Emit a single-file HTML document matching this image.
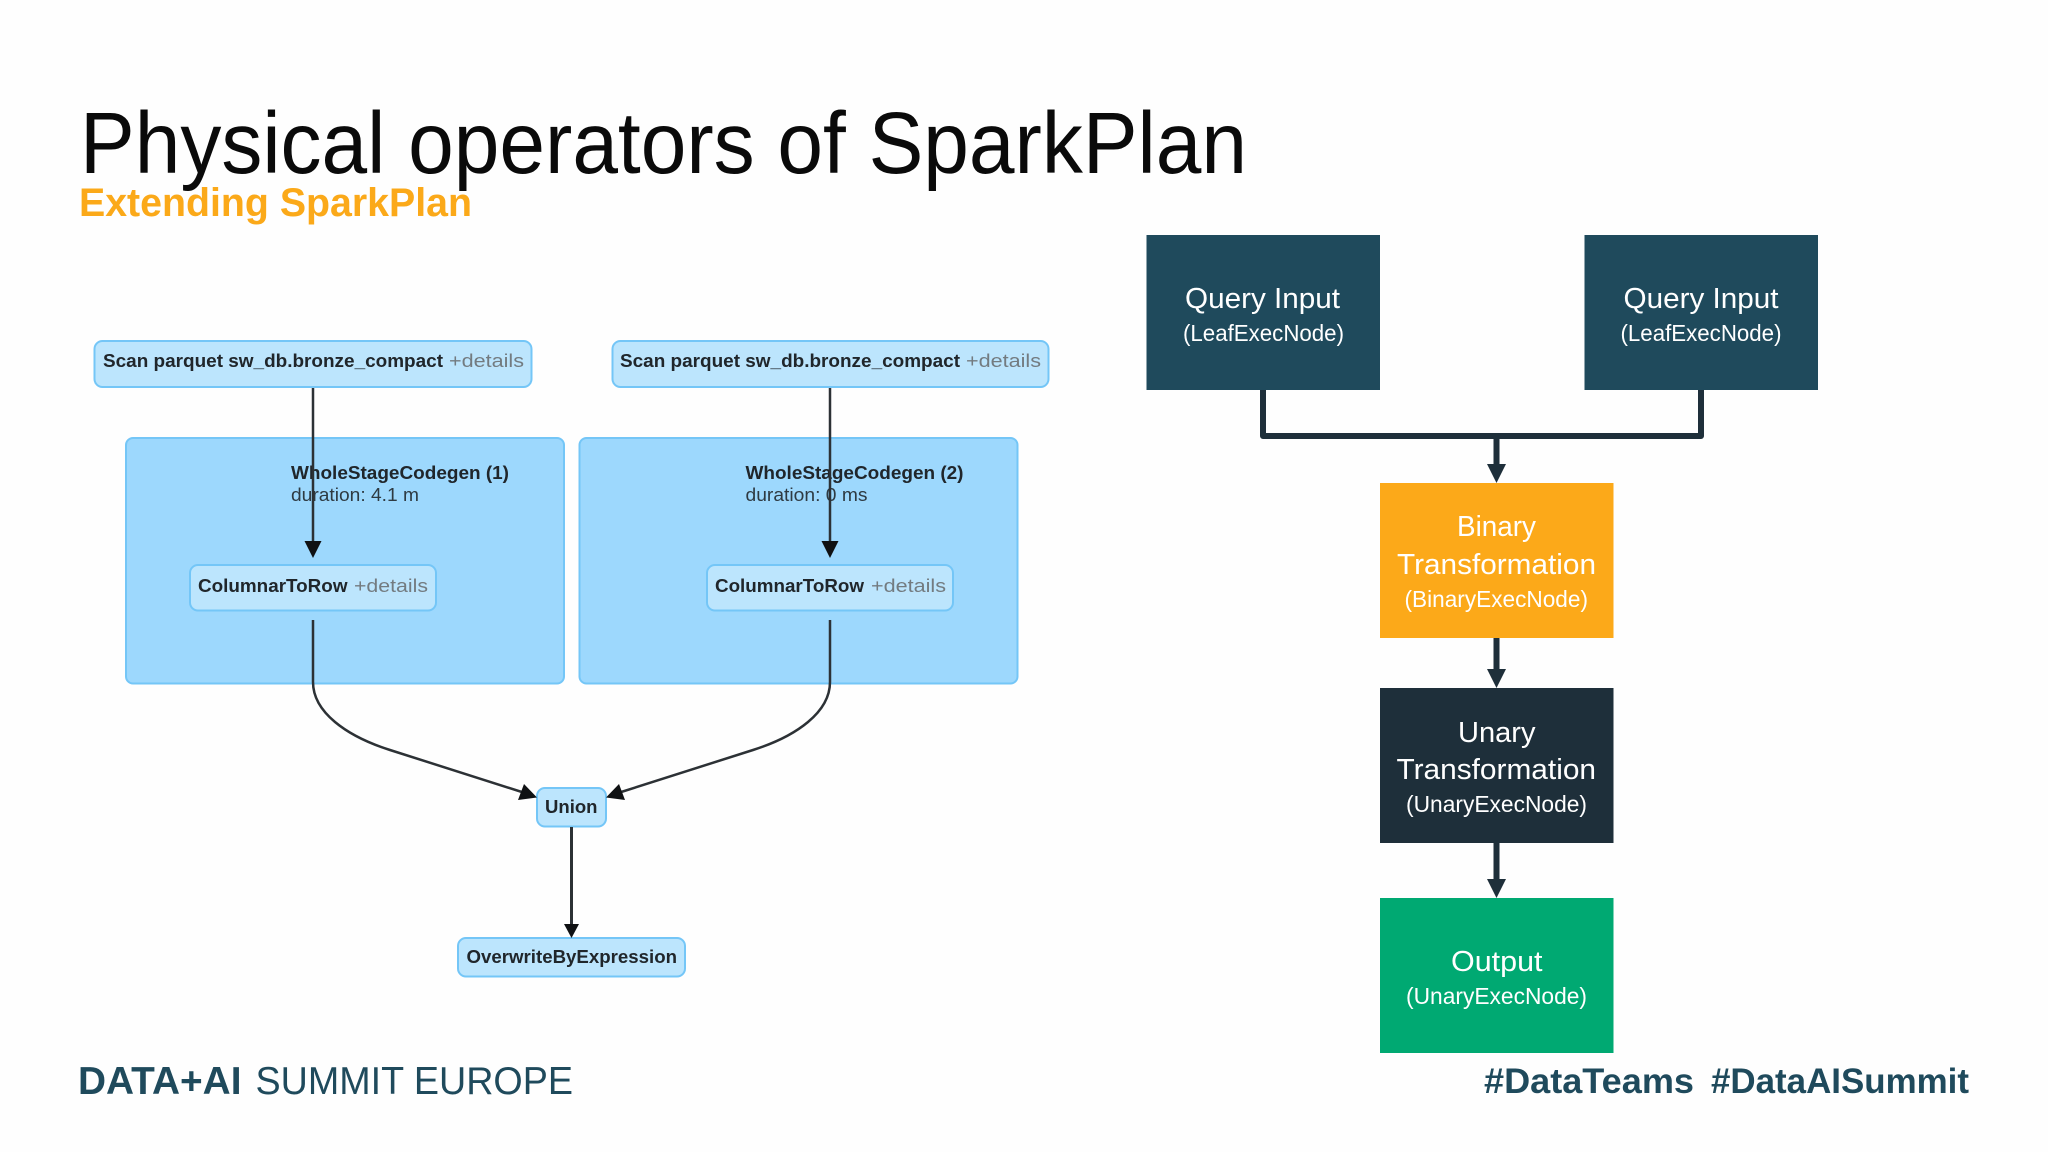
<!DOCTYPE html>
<html>
<head>
<meta charset="utf-8">
<title>Physical operators of SparkPlan</title>
<style>
html,body{margin:0;padding:0;background:#fefefe}
svg{display:block}
text{font-family:"Liberation Sans",sans-serif}
.b{font-weight:700;fill:#20262b;font-size:18px}
.d{fill:#737b80;font-size:18px}
.r{fill:#2e3a42;font-size:18px}
.w1{fill:#fff;font-size:29px}
.w2{fill:#fff;font-size:23px}
</style>
</head>
<body>
<svg width="2048" height="1152" viewBox="0 0 2048 1152" xmlns="http://www.w3.org/2000/svg">
<rect width="2048" height="1152" fill="#fefefe"/>

<text x="80" y="173" font-size="87" fill="#0a0a0a" textLength="1167" lengthAdjust="spacingAndGlyphs">Physical operators of SparkPlan</text>
<text x="79" y="216" font-size="40" font-weight="700" fill="#fba919" textLength="393" lengthAdjust="spacingAndGlyphs">Extending SparkPlan</text>

<!-- clusters -->
<rect x="126" y="438" width="438" height="245.500" rx="7" fill="#9dd8fd" stroke="#74c6f7" stroke-width="2"/>
<rect x="579.500" y="438" width="438" height="245.500" rx="7" fill="#9dd8fd" stroke="#74c6f7" stroke-width="2"/>

<!-- nodes -->
<rect x="94.500" y="341" width="437" height="46" rx="8" fill="#bce5fd" stroke="#74c6f7" stroke-width="2"/>
<rect x="612.500" y="341" width="436" height="46" rx="8" fill="#bce5fd" stroke="#74c6f7" stroke-width="2"/>
<rect x="190" y="565" width="246" height="45.500" rx="8" fill="#bce5fd" stroke="#74c6f7" stroke-width="2"/>
<rect x="707" y="565" width="246" height="45.500" rx="8" fill="#bce5fd" stroke="#74c6f7" stroke-width="2"/>
<rect x="537" y="788" width="69" height="38.500" rx="8" fill="#bce5fd" stroke="#74c6f7" stroke-width="2"/>
<rect x="458" y="938" width="227" height="38.500" rx="8" fill="#bce5fd" stroke="#74c6f7" stroke-width="2"/>

<!-- node text -->
<text class="b" x="103" y="367" textLength="340" lengthAdjust="spacingAndGlyphs">Scan parquet sw_db.bronze_compact</text>
<text class="d" x="449" y="367" textLength="75" lengthAdjust="spacingAndGlyphs">+details</text>
<text class="b" x="620" y="367" textLength="340" lengthAdjust="spacingAndGlyphs">Scan parquet sw_db.bronze_compact</text>
<text class="d" x="966" y="367" textLength="75" lengthAdjust="spacingAndGlyphs">+details</text>
<text class="b" x="291" y="479" textLength="218" lengthAdjust="spacingAndGlyphs">WholeStageCodegen (1)</text>
<text class="r" x="291" y="501" textLength="128" lengthAdjust="spacingAndGlyphs">duration: 4.1 m</text>
<text class="b" x="745.500" y="479" textLength="218" lengthAdjust="spacingAndGlyphs">WholeStageCodegen (2)</text>
<text class="r" x="745.500" y="501" textLength="122" lengthAdjust="spacingAndGlyphs">duration: 0 ms</text>
<text class="b" x="198" y="592" textLength="149.500" lengthAdjust="spacingAndGlyphs">ColumnarToRow</text>
<text class="d" x="354" y="592" textLength="74" lengthAdjust="spacingAndGlyphs">+details</text>
<text class="b" x="715" y="592" textLength="149" lengthAdjust="spacingAndGlyphs">ColumnarToRow</text>
<text class="d" x="871" y="592" textLength="75" lengthAdjust="spacingAndGlyphs">+details</text>
<text class="b" x="545" y="813" textLength="52.500" lengthAdjust="spacingAndGlyphs">Union</text>
<text class="b" x="466.500" y="963" textLength="210.500" lengthAdjust="spacingAndGlyphs">OverwriteByExpression</text>

<!-- left connectors -->
<g fill="none" stroke="#2c3135" stroke-width="2.500">
<path d="M313 388V545"/>
<path d="M830 388V545"/>
<path d="M313 620V682C313 712 346 736 390 750L525 793"/>
<path d="M830 620V682C830 712 797 736 753 750L618 793"/>
<path d="M571.500 827V926" stroke-width="3"/>
</g>
<g fill="#0f1113">
<polygon points="304.500,541 321.500,541 313,558"/>
<polygon points="821.500,541 838.500,541 830,558"/>
<polygon points="537,797.500 524,784 518,800"/>
<polygon points="606,797.500 619,784 625,800"/>
<polygon points="564,924 579,924 571.500,938"/>
</g>

<!-- right boxes -->
<rect x="1146.500" y="235" width="233.500" height="155" fill="#1f4a5c"/>
<rect x="1584.500" y="235" width="233.500" height="155" fill="#1f4a5c"/>
<rect x="1380" y="483" width="233.500" height="155" fill="#fca919"/>
<rect x="1380" y="688" width="233.500" height="155" fill="#1e2f3a"/>
<rect x="1380" y="898" width="233.500" height="155" fill="#00a972"/>

<!-- right connectors -->
<g fill="none" stroke="#1e2f3a" stroke-width="6">
<path d="M1263 390V436H1701V390" stroke-linejoin="round"/>
<path d="M1496.500 436V466"/>
<path d="M1496.500 638V671"/>
<path d="M1496.500 843V881"/>
</g>
<g fill="#1e2f3a">
<polygon points="1487,464 1506,464 1496.500,483"/>
<polygon points="1487,669 1506,669 1496.500,688"/>
<polygon points="1487,879 1506,879 1496.500,898"/>
</g>

<!-- right text -->
<text class="w1" x="1185" y="308" textLength="155" lengthAdjust="spacingAndGlyphs">Query Input</text>
<text class="w2" x="1183" y="341" textLength="161" lengthAdjust="spacingAndGlyphs">(LeafExecNode)</text>
<text class="w1" x="1623.500" y="308" textLength="155" lengthAdjust="spacingAndGlyphs">Query Input</text>
<text class="w2" x="1620.500" y="341" textLength="161" lengthAdjust="spacingAndGlyphs">(LeafExecNode)</text>
<text class="w1" x="1457" y="536" textLength="79" lengthAdjust="spacingAndGlyphs">Binary</text>
<text class="w1" x="1397" y="574" textLength="199" lengthAdjust="spacingAndGlyphs">Transformation</text>
<text class="w2" x="1404.500" y="607" textLength="183.500" lengthAdjust="spacingAndGlyphs">(BinaryExecNode)</text>
<text class="w1" x="1458" y="742" textLength="77.500" lengthAdjust="spacingAndGlyphs">Unary</text>
<text class="w1" x="1396.500" y="779" textLength="199.500" lengthAdjust="spacingAndGlyphs">Transformation</text>
<text class="w2" x="1406" y="812" textLength="181" lengthAdjust="spacingAndGlyphs">(UnaryExecNode)</text>
<text class="w1" x="1451" y="971" textLength="91.500" lengthAdjust="spacingAndGlyphs">Output</text>
<text class="w2" x="1406" y="1004" textLength="181" lengthAdjust="spacingAndGlyphs">(UnaryExecNode)</text>

<!-- footer -->
<text x="78" y="1094" font-size="38.500" font-weight="700" fill="#1f4a5c" textLength="163.500" lengthAdjust="spacingAndGlyphs">DATA+AI</text>
<text x="255.500" y="1094" font-size="38.500" fill="#1f4a5c" textLength="317.500" lengthAdjust="spacingAndGlyphs">SUMMIT EUROPE</text>
<text x="1484" y="1093" font-size="35" font-weight="700" fill="#1f4a5c" textLength="210" lengthAdjust="spacingAndGlyphs">#DataTeams</text>
<text x="1711" y="1093" font-size="35" font-weight="700" fill="#1f4a5c" textLength="258" lengthAdjust="spacingAndGlyphs">#DataAISummit</text>
</svg>
</body>
</html>
